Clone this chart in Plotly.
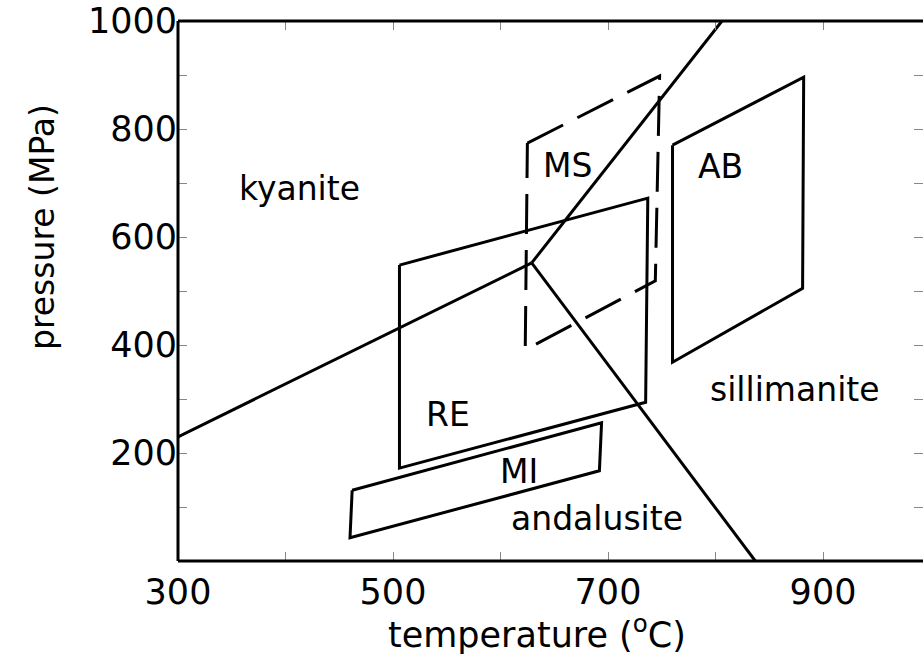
import plotly.graph_objects as go

# Phase boundaries (temperature °C, pressure MPa)
ky_and_T = [300, 629]
ky_and_P = [230, 552]
ky_sil_T = [629, 806]
ky_sil_P = [552, 1000]
and_sil_T = [629, 837]
and_sil_P = [552, 0]

# Field boxes
RE_T = [506, 737, 735, 506, 506]
RE_P = [548, 672, 294, 172, 548]
MI_T = [462, 694, 692, 460, 462]
MI_P = [131, 256, 167, 43, 131]
AB_T = [760, 882, 881, 760, 760]
AB_P = [770, 896, 505, 368, 770]
MS_T = [625, 748, 744, 623, 625]
MS_P = [774, 898, 519, 391, 774]

# Labels
label_text = ["kyanite", "MS", "AB", "RE", "MI", "andalusite", "sillimanite"]
label_T = [413, 662, 805, 551, 617, 690, 874]
label_P = [690, 733, 731, 272, 165, 78, 317]

x_tickvals = [300, 500, 700, 900]
y_tickvals = [200, 400, 600, 800, 1000]

FONT = "DejaVu Sans"
fig = go.Figure()

def add_line(T, P, dash="solid"):
    fig.add_trace(go.Scatter(x=T, y=P, mode="lines",
                             line=dict(color="black", width=3, dash=dash),
                             showlegend=False, hoverinfo="skip"))

add_line(ky_and_T, ky_and_P)
add_line(ky_sil_T, ky_sil_P)
add_line(and_sil_T, and_sil_P)
add_line(RE_T, RE_P)
add_line(MI_T, MI_P)
add_line(AB_T, AB_P)
add_line(MS_T, MS_P, dash="40px,16px")

for t, x, y in zip(label_text, label_T, label_P):
    fig.add_annotation(x=x, y=y, text=t, showarrow=False,
                       font=dict(family=FONT, size=33, color="black"),
                       xanchor="center", yanchor="middle")

fig.add_annotation(xref="paper", yref="paper", x=0.482, y=-0.131,
                   text="temperature (<sup>o</sup>C)", showarrow=False,
                   font=dict(family=FONT, size=35, color="black"),
                   xanchor="center", yanchor="middle")
fig.add_annotation(xref="paper", yref="paper", x=-0.1826, y=0.6185,
                   text="pressure (MPa)", showarrow=False, textangle=-90,
                   font=dict(family=FONT, size=33, color="black"),
                   xanchor="center", yanchor="middle")

# Frame: left, bottom and top (right edge is cropped in the original)
for x0, y0, x1, y1 in [(0, 0, 0, 1), (0, 0, 1, 0), (0, 1, 1, 1)]:
    fig.add_shape(type="line", xref="paper", yref="paper",
                  x0=x0, y0=y0, x1=x1, y1=y1,
                  line=dict(color="black", width=3))

minor = dict(ticks="inside", ticklen=9, tickwidth=1, tickcolor="#888",
             showgrid=False, dtick=100)
axis_common = dict(tickmode="array", ticks="inside", ticklen=9, tickwidth=1,
                   tickcolor="#888", showline=False, mirror="ticks",
                   showgrid=False, zeroline=False,
                   tickfont=dict(family=FONT, size=35, color="black"))

fig.update_layout(
    width=923, height=662,
    margin=dict(l=178, r=0, t=21, b=101),
    paper_bgcolor="white", plot_bgcolor="white",
    xaxis=dict(range=[300, 993], tickvals=x_tickvals, ticklabelstandoff=7,
               minor=dict(minor, tick0=300), **axis_common),
    yaxis=dict(range=[0, 1000], tickvals=y_tickvals,
               minor=dict(minor, tick0=0), **axis_common),
)

fig.write_html("out.html", config={"displayModeBar": False},
               post_script="document.body.style.margin='0';"
                           "document.body.style.overflow='hidden';")
